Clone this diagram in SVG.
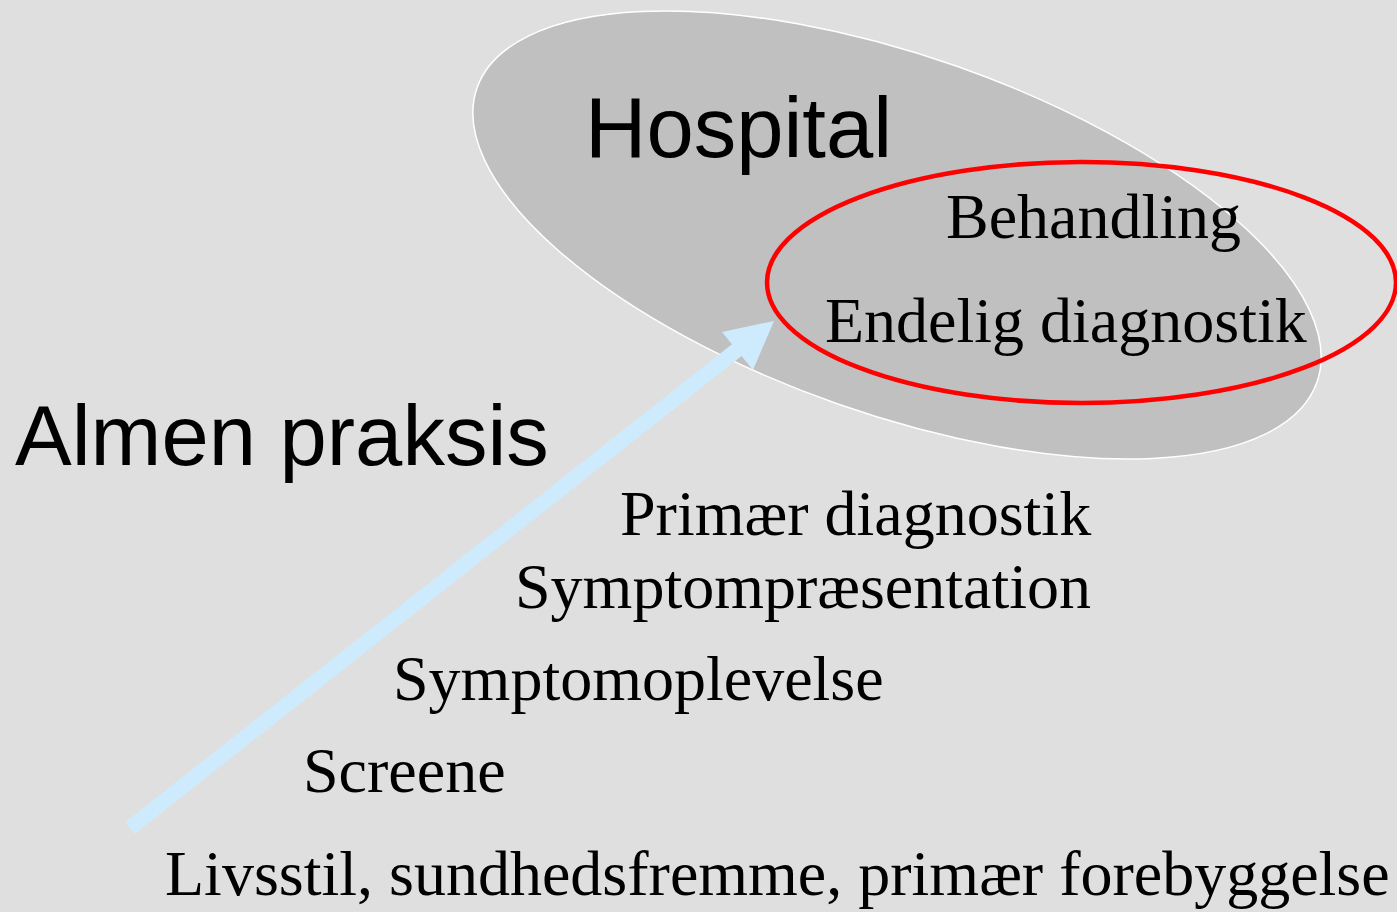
<svg xmlns="http://www.w3.org/2000/svg" width="1397" height="912" viewBox="0 0 1397 912">
<style>
.sans{font-family:"Liberation Sans",Arial,sans-serif;font-size:85px;fill:#000}
.serif{font-family:"Liberation Serif","Times New Roman",serif;font-size:64px;fill:#000}
</style>
<rect x="0" y="0" width="1397" height="912" fill="#dfdfdf"/>
<g id="hospital">
<ellipse cx="897" cy="235" rx="445" ry="179" transform="rotate(19.3 897 235)" fill="#c0c0c0" stroke="#ffffff" stroke-width="1.5"/>
<text class="sans" x="585" y="157">Hospital</text>
</g>
<g id="connectors">
<line x1="130" y1="828" x2="742" y2="346" stroke="#cdebfc" stroke-width="15"/>
<polygon points="774,321 722,332 753,370" fill="#cdebfc"/>
</g>
<g id="hospital-tasks">
<ellipse cx="1081.5" cy="282.5" rx="314.5" ry="120.5" fill="none" stroke="#ff0000" stroke-width="4.5"/>
<text class="serif" x="946" y="238">Behandling</text>
<text class="serif" x="825" y="342">Endelig diagnostik</text>
</g>
<g id="almen-praksis">
<text class="sans" x="15" y="465">Almen praksis</text>
</g>
<g id="steps">
<text class="serif" x="620" y="535">Primær diagnostik</text>
<text class="serif" x="515" y="608">Symptompræsentation</text>
<text class="serif" x="393" y="700">Symptomoplevelse</text>
<text class="serif" x="303" y="792">Screene</text>
<text class="serif" x="165" y="895">Livsstil, sundhedsfremme, primær forebyggelse</text>
</g>
</svg>
